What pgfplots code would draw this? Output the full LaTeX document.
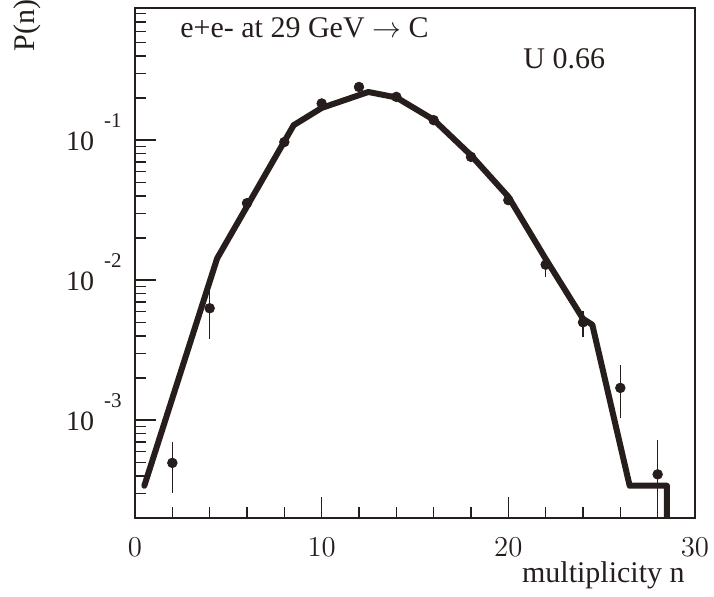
\documentclass[border=0pt]{standalone}
\usepackage{fontspec}
\setmainfont{Liberation Serif}
\usepackage{pgfplots}
\pgfplotsset{compat=1.18}

\definecolor{ink}{RGB}{38,30,28}

% exponent-style tick label: "10  -k"
\newcommand{\dec}[1]{10\hspace{5pt}\raisebox{11.5pt}{\fontsize{10.5}{11}\selectfont -#1}}

% measured multiplicity distribution: n, P(n), upper and lower errors
\pgfplotstableread{
n   p       ep       em
2   4.95e-4 2.05e-4  1.95e-4
4   6.3e-3  2.0e-3   2.5e-3
6   0.0355  0.0015   0.0015
8   0.097   0.003    0.003
10  0.183   0.005    0.005
12  0.240   0.006    0.006
14  0.204   0.005    0.005
16  0.139   0.004    0.004
18  0.076   0.003    0.003
20  0.0373  0.0015   0.0015
22  0.0129  0.0021   0.0023
24  5.0e-3  1.0e-3   1.1e-3
26  1.70e-3 0.77e-3  0.67e-3
28  4.1e-4  3.1e-4   2.1e-4
}\datatab

% model curve
\pgfplotstableread{
n    p
0.5  3.4e-4
4.4  0.0143
8.5  0.128
10   0.170
12.5 0.221
14   0.202
16   0.140
18   0.078
20   0.0395
22   0.0142
24   5.3e-3
24.5 4.8e-3
26.5 3.4e-4
28.5 3.4e-4
28.5 1e-5
}\modeltab

\begin{document}
\fontsize{15}{18}\selectfont
\begin{tikzpicture}[x=1pt,y=1pt]
\useasboundingbox (-67.5,-39.5) rectangle (289.5,259);
\begin{axis}[
  at={(0,0)}, anchor=south west,
  scale only axis, width=280pt, height=255pt,
  xmin=0, xmax=30,
  ymode=log, ymin=2e-4, ymax=0.88,
  xtick={0,10,20,30}, minor x tick num=4,
  ytick={1e-3,1e-2,1e-1},
  yticklabels={\dec{3},\dec{2},\dec{1}},
  minor ytick={2e-4,3e-4,4e-4,5e-4,6e-4,7e-4,8e-4,9e-4,
               2e-3,3e-3,4e-3,5e-3,6e-3,7e-3,8e-3,9e-3,
               0.02,0.03,0.04,0.05,0.06,0.07,0.08,0.09,
               0.2,0.3,0.4,0.5,0.6,0.7,0.8},
  tick pos=left, tick align=inside,
  major tick length=10.5pt, minor tick length=5.3pt,
  every tick/.style={line width=0.7pt, color=ink},
  axis line style={line width=1pt, color=ink},
  tick label style={font=\fontsize{14}{16}\selectfont, color=ink},
  xticklabel style={yshift=-5pt},
  yticklabel style={anchor=base east, yshift=-5pt, xshift=-1.5pt},
]
\addplot[color=ink, line width=3pt, line join=round, line cap=round]
  table[x=n, y=p] {\modeltab};
\addplot[color=ink, only marks, mark=*, mark size=2.4pt,
  error bars/.cd, y dir=both, y explicit, error mark=none,
  error bar style={line width=0.6pt, color=ink}]
  table[x=n, y=p, y error plus=ep, y error minus=em] {\datatab};
\node[anchor=base west, text=ink] at (rel axis cs:0.0625,0.942)
  {e+e- at 29 GeV $\rightarrow$ C};
\node[anchor=base west, text=ink] at (rel axis cs:0.675,0.882) {U 0.66};
\end{axis}
\node[rotate=90, anchor=base west, text=ink] at (-50,228) {P(n)};
\node[anchor=base east, text=ink] at (280,-32.5) {multiplicity n};
\end{tikzpicture}
\end{document}
